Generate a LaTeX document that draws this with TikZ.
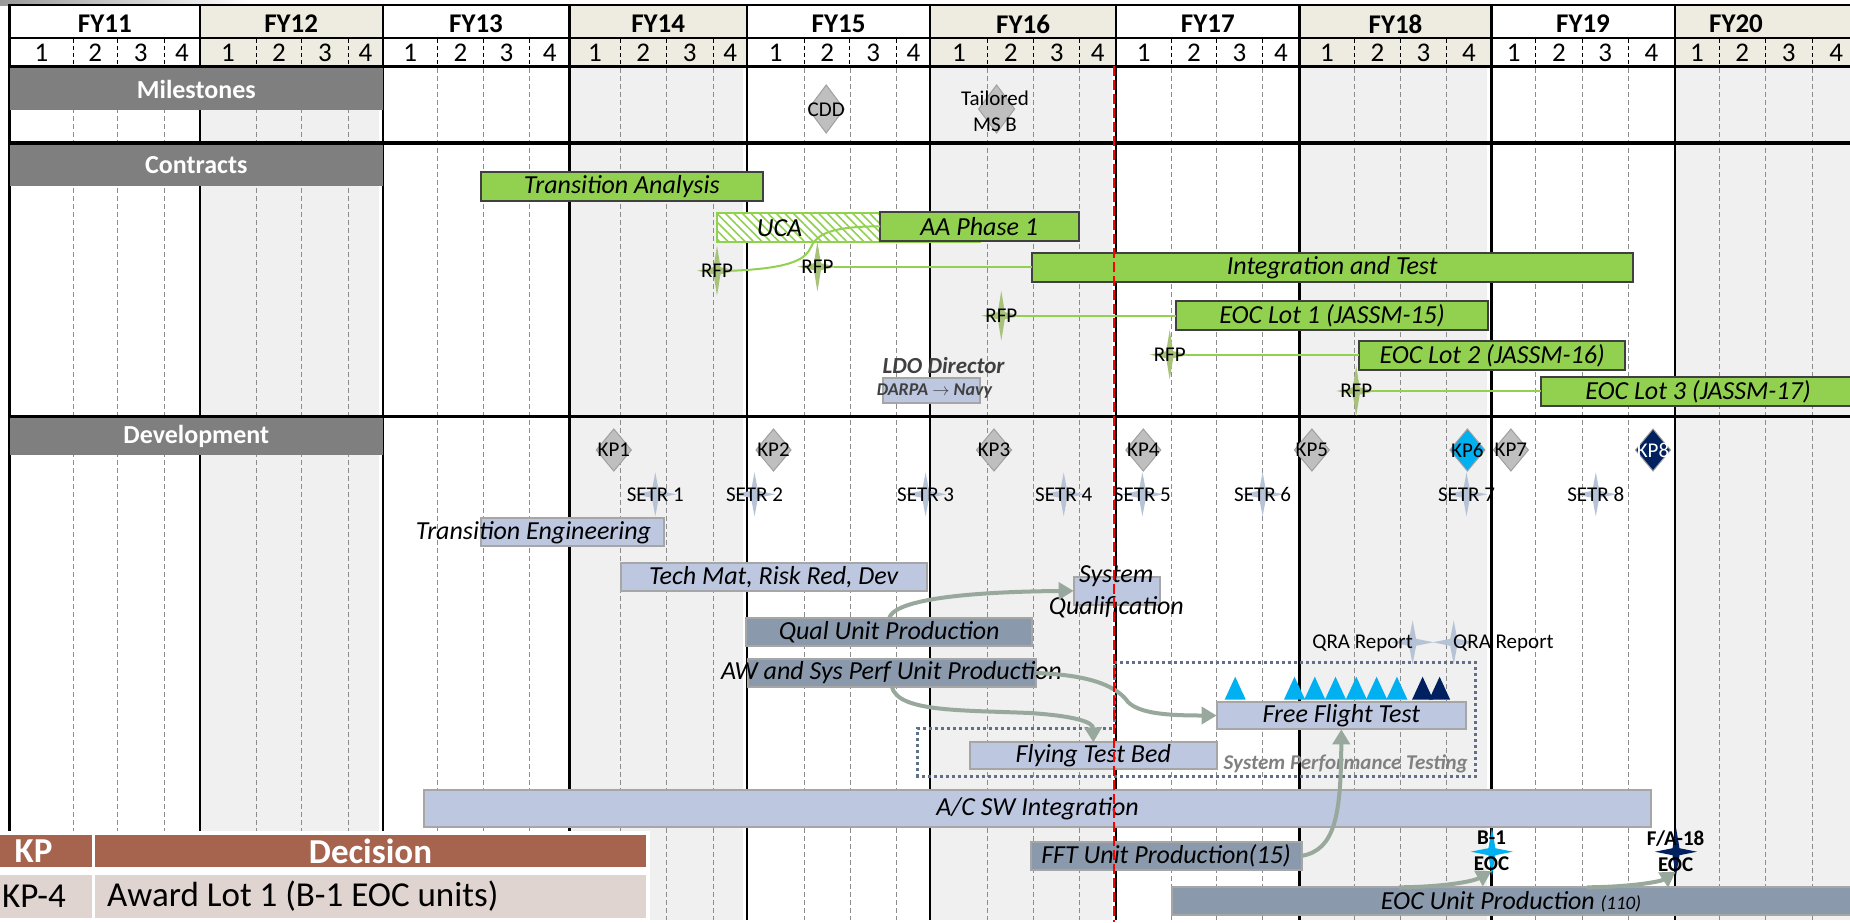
\documentclass[tikz,border=0pt]{standalone}
\usepackage{fontspec}
\setmainfont{Carlito}
\usetikzlibrary{arrows.meta,patterns.meta}

\definecolor{beige}{RGB}{238,236,225}
\definecolor{colgrey}{RGB}{240,240,240}
\definecolor{hdrgrey}{RGB}{127,127,127}
\definecolor{barGreen}{RGB}{146,208,80}
\definecolor{barBlue}{RGB}{189,199,224}
\definecolor{barSlate}{RGB}{138,154,172}
\definecolor{barEdge}{RGB}{166,166,166}
\definecolor{kpGrey}{RGB}{191,191,191}
\definecolor{kpEdge}{RGB}{160,160,160}
\definecolor{setrStar}{RGB}{182,194,214}
\definecolor{rfpStar}{RGB}{169,194,122}
\definecolor{cyanKP}{RGB}{0,176,240}
\definecolor{navyKP}{RGB}{0,32,96}
\definecolor{flowArrow}{RGB}{152,168,156}
\definecolor{dotEdge}{RGB}{96,112,136}
\definecolor{tblHead}{RGB}{166,99,78}
\definecolor{tblRow}{RGB}{224,212,208}
\definecolor{ldoText}{RGB}{64,64,64}

\tikzset{
  yline/.style={line width=2.2pt, black},
  qline/.style={line width=0.8pt, black!45, dash pattern=on 5pt off 3pt},
  qtick/.style={line width=1pt, black, dash pattern=on 4pt off 3pt},
  hline/.style={line width=3.5pt, black},
  fylbl/.style={font={\fontsize{27}{30}\selectfont\bfseries}, inner sep=0pt},
  qlbl/.style={font={\fontsize{27}{30}\selectfont}, inner sep=0pt},
  secbox/.style={fill=hdrgrey, inner sep=0pt, outer sep=0pt},
  seclbl/.style={text=white, font={\fontsize{26}{30}\selectfont\bfseries}, inner sep=0pt},
  greenbar/.style={fill=barGreen, draw=black!75, line width=2pt, inner sep=0pt, outer sep=0pt},
  ucabar/.style={preaction={fill=white}, draw=barGreen, line width=2pt,
    pattern={Lines[angle=-45,distance=6pt,line width=1.6pt]}, pattern color=barGreen,
    inner sep=0pt, outer sep=0pt},
  bluebar/.style={fill=barBlue, draw=barEdge, line width=2pt, inner sep=0pt, outer sep=0pt},
  slatebar/.style={fill=barSlate, draw=barEdge, line width=2pt, inner sep=0pt, outer sep=0pt},
  barlbl/.style={font={\fontsize{26}{32}\selectfont\itshape}, inner sep=0pt},
  smlbl/.style={font={\fontsize{21}{26}\selectfont}, inner sep=0pt},
  ldolbl/.style={text=ldoText, font={\fontsize{23}{26}\selectfont\bfseries\itshape}, inner sep=0pt},
  darpalbl/.style={text=ldoText, font={\fontsize{18}{22}\selectfont\bfseries\itshape}, inner sep=0pt},
  sptlbl/.style={text=black!50, font={\fontsize{21}{24}\selectfont\bfseries\itshape}, inner sep=0pt},
  eoclbl/.style={font={\fontsize{21}{26}\selectfont\bfseries}, inner sep=0pt, align=center},
  rfpline/.style={draw=barGreen, line width=2pt},
  flow/.style={draw=flowArrow, line width=4pt, -{Triangle[length=15pt,width=17pt]}},
  sptbox/.style={draw=dotEdge, line width=3pt, dash pattern=on 3pt off 3pt},
  reddash/.style={draw=red, line width=2.6pt, dash pattern=on 10pt off 4pt},
  tbllbl/.style={font={\fontsize{35}{40}\selectfont}, inner sep=0pt},
  tblhdr/.style={text=white, font={\fontsize{35}{40}\selectfont\bfseries}, inner sep=0pt},
  pics/diam/.style n args={3}{code={
    \filldraw[fill=#3, draw=kpEdge, line width=1pt] (-#1,0) -- (0,-#2) -- (#1,0) -- (0,#2) -- cycle;}},
  pics/fstar/.style n args={3}{code={
    \fill[#3] (0,-#2) -- (3.5,-3.5) -- (#1,0) -- (3.5,3.5) -- (0,#2) -- (-3.5,3.5) -- (-#1,0) -- (-3.5,-3.5) -- cycle;}},
}

% a bar: name, style, left, top, right, bottom
\newcommand\barnode[6]{\node[#2, anchor=north west, minimum width={#5-#3}, minimum height={#6-#4}] (#1) at (#3,#4) {};}

\begin{document}
\begin{tikzpicture}[x=1pt,y=-1pt]
\useasboundingbox (0,0) rectangle (1850,922);
\fill[white] (0,0) rectangle (1850,922);
\shade[left color=black!40, right color=white] (0,0) rectangle (250,5);

% ---------- calendar grid ----------
\foreach \a/\b/\fc in {9.9/199.7/white, 199.7/382.7/beige, 382.7/569.4/white, 569.4/747.1/beige,
    747.1/930.2/white, 930.2/1116/beige, 1116/1299.5/white, 1299.5/1491.4/beige,
    1491.4/1674.6/white, 1674.6/1860/beige}
  \fill[\fc] (\a,5) rectangle (\b,66);
\foreach \a/\b in {199.7/382.7, 569.4/747.1, 930.2/1116, 1299.5/1491.4, 1674.6/1860}
  \fill[colgrey] (\a,68) rectangle ({\b-4},920);

\foreach \yr/\a/\ta/\tb/\tq/\b in {11/9.9/73.2/117.4/164.1/199.7, 12/199.7/256.2/301.7/348/382.7,
    13/382.7/437.7/483.2/529.8/569.4, 14/569.4/620.6/666/713.5/747.1,
    15/747.1/804.4/849.9/896.6/930.2, 16/930.2/987.5/1033.7/1079.6/1116,
    17/1116/1171.3/1216.6/1262.2/1299.5, 18/1299.5/1354.6/1400.2/1446.6/1491.4,
    19/1491.4/1535.8/1582.2/1628.2/1674.6, 20/1674.6/1719.4/1765/1812.2/1860}{
  \foreach \t in {\ta,\tb,\tq}{
    \draw[qline] (\t,68) -- (\t,920);
    \draw[qtick] (\t,39) -- (\t,65);
  }
  \node[qlbl] (q\yr-1) at ({(\a+\ta)/2},52.5) {1};
  \node[qlbl] (q\yr-2) at ({(\ta+\tb)/2},52.5) {2};
  \node[qlbl] (q\yr-3) at ({(\tb+\tq)/2},52.5) {3};
  \node[qlbl] (q\yr-4) at ({(\tq+\b)/2},52.5) {4};
}
\foreach \b in {199.7,382.7,569.4,747.1,930.2,1116,1299.5,1491.4,1674.6}
  \draw[yline] (\b,5) -- (\b,920);
\draw[line width=3pt] (9.9,4) -- (9.9,832);
\draw[line width=2pt] (9.9,5) -- (1850,5);
\draw[line width=2pt] (9.9,38.3) -- (1850,38.3);
\draw[hline] (9.9,66.5) -- (1850,66.5);
\draw[hline] (9.9,143) -- (1850,143);
\draw[hline] (9.9,416.7) -- (1850,416.7);

\foreach \yr/\x in {11/104.8, 12/291.2, 13/476, 14/658.2, 15/838.6, 16/1023.1,
    17/1207.8, 18/1395.5, 19/1583, 20/1736}
  \node[fylbl] (fy\yr) at (\x,24) {FY\yr};

% ---------- section headers ----------
\barnode{msbox}{secbox}{9.9}{68}{382.7}{110}
\node[seclbl] (ms-t) at (msbox) {Milestones};
\barnode{ctbox}{secbox}{9.9}{145}{382.7}{186}
\node[seclbl] (ct-t) at (ctbox) {Contracts};
\barnode{dvbox}{secbox}{9.9}{418}{382.7}{455}
\node[seclbl] (dv-t) at (dvbox) {Development};

% ---------- milestones ----------
\pic at (826.2,109) {diam={18}{24}{kpGrey}};
\node[smlbl] (cdd) at (826.2,110) {CDD};
\pic at (996.6,109) {diam={18}{24}{kpGrey}};
\node[smlbl, align=center] (msb) at (995,111) {Tailored\\MS B};

% ---------- contracts ----------
\barnode{ta}{greenbar}{481.2}{171.7}{762.5}{200.7}
\node[barlbl] (ta-t) at (ta) {Transition Analysis};
\barnode{uca}{ucabar}{717}{212.7}{980.3}{242.3}
\node[barlbl] (uca-t) at (779.5,228) {UCA};
\barnode{aa}{greenbar}{880}{211.7}{1078.5}{241}
\node[barlbl] (aa-t) at (aa) {AA Phase 1};
\barnode{it}{greenbar}{1031.7}{252.7}{1632.6}{281.7}
\node[barlbl] (it-t) at (it) {Integration and Test};
\barnode{lot1}{greenbar}{1176.2}{301}{1487.9}{330}
\node[barlbl] (lot1-t) at (lot1) {EOC Lot 1 (JASSM-15)};
\barnode{lot2}{greenbar}{1359.4}{341}{1625}{370}
\node[barlbl] (lot2-t) at (lot2) {EOC Lot 2 (JASSM-16)};
\barnode{lot3}{greenbar}{1541}{377.3}{1855}{406}
\node[barlbl] (lot3-t) at (lot3) {EOC Lot 3 (JASSM-17)};

\pic at (717,270.7) {fstar={20}{25}{rfpStar}};
\node[smlbl] (rfp1) at (717,270.7) {RFP};
\pic at (817.4,266.7) {fstar={20}{25}{rfpStar}};
\node[smlbl] (rfp2) at (817.4,266.7) {RFP};
\pic at (1001.3,315.7) {fstar={20}{25}{rfpStar}};
\node[smlbl] (rfp3) at (1001.3,315.7) {RFP};
\pic at (1169.7,354.7) {fstar={20}{25}{rfpStar}};
\node[smlbl] (rfp4) at (1169.7,354.7) {RFP};
\pic at (1356.2,391) {fstar={20}{25}{rfpStar}};
\node[smlbl] (rfp5) at (1356.2,391) {RFP};

\draw[rfpline] (rfp1.east) .. controls (795,268) and (806,258) .. (811,247)
  .. controls (818,231) and (840,226.4) .. (aa.west);
\draw[rfpline] (rfp2.east) -- (rfp2.east -| it.west);
\draw[rfpline] (rfp3.east) -- (rfp3.east -| lot1.west);
\draw[rfpline] (rfp4.east) -- (rfp4.east -| lot2.west);
\draw[rfpline] (rfp5.east) -- (rfp5.east -| lot3.west);

\node[ldolbl] (ldo) at (943.6,366) {LDO Director};
\barnode{darpa}{bluebar}{883.4}{378.3}{980.3}{403.3}
\node[darpalbl] (darpa-t) at (934.4,391) {DARPA $\rightarrow$ Navy};

% ---------- development ----------
\foreach \n/\x/\fc in {1/613.8/kpGrey, 2/773.5/kpGrey, 3/994/kpGrey, 4/1143.3/kpGrey,
    5/1311.9/kpGrey, 6/1467.4/cyanKP, 7/1510.9/kpGrey}{
  \pic at (\x,450) {diam={17.5}{21}{\fc}};
  \node[smlbl] (kp\n) at (\x,450) {KP\n};
}
\pic at (1653,450) {diam={17.5}{21}{navyKP}};
\node[smlbl, text=white] (kp8) at (1653,450) {KP8};

\foreach \n/\x in {1/655.3, 2/754.5, 3/925.6, 4/1063.7, 5/1142.4, 6/1262.6, 7/1466.5, 8/1595.8}{
  \pic at (\x,494.3) {fstar={21}{22}{setrStar}};
  \node[smlbl] (setr\n) at (\x,494.3) {SETR \n};
}

\barnode{te}{bluebar}{480.8}{518.3}{663.8}{546}
\node[barlbl] (te-t) at (533.5,532.5) {Transition Engineering};
\barnode{tm}{bluebar}{620.5}{563.3}{926.9}{590.7}
\node[barlbl] (tm-t) at (tm) {Tech Mat, Risk Red, Dev};
\barnode{sq}{bluebar}{1073.6}{576.7}{1159.8}{605}
\node[barlbl, align=center] (sq-t) at (1116.3,592) {System\\Qualification};
\barnode{qual}{slatebar}{746.2}{618.3}{1032.2}{646}
\node[barlbl] (qual-t) at (qual) {Qual Unit Production};
\barnode{aw}{slatebar}{748.2}{659.3}{1035.5}{686.7}
\node[barlbl] (aw-t) at (891.5,673) {AW and Sys Perf Unit Production};

\pic at (1412.6,642.3) {fstar={21}{22}{setrStar}};
\pic at (1453.7,642.3) {fstar={21}{22}{setrStar}};
\node[smlbl, anchor=east] (qra1) at (1413,643) {QRA Report};
\node[smlbl, anchor=west] (qra2) at (1453,643) {QRA Report};

% system performance testing group
\draw[sptbox] (1114,662.7) -- (1475.6,662.7) -- (1475.6,776) -- (917.4,776)
  -- (917.4,728.3) -- (1114,728.3) -- cycle;
\node[sptlbl, anchor=east] (spt) at (1468,764) {System Performance Testing};

\foreach \x/\fc in {1235.2/cyanKP, 1294.5/cyanKP, 1314.8/cyanKP, 1335.5/cyanKP, 1356.3/cyanKP,
    1376.6/cyanKP, 1396.9/cyanKP, 1422.6/navyKP, 1439.6/navyKP}
  \fill[\fc] ({\x-10.5},699.5) -- (\x,676.7) -- ({\x+10.5},699.5) -- cycle;

\barnode{fft}{bluebar}{1216.6}{701.7}{1466.1}{729.3}
\node[barlbl] (fft-t) at (fft) {Free Flight Test};
\barnode{ftb}{bluebar}{970}{742.3}{1216.6}{769.3}
\node[barlbl] (ftb-t) at (ftb) {Flying Test Bed};
\barnode{acsw}{bluebar}{424.1}{790}{1651}{826.7}
\node[barlbl] (acsw-t) at (acsw) {A/C SW Integration};
\barnode{fftu}{slatebar}{1030.5}{841.7}{1301.7}{870}
\node[barlbl] (fftu-t) at (fftu) {FFT Unit Production(15)};
\barnode{eocu}{slatebar}{1171.5}{887.3}{1855}{915}
\node[barlbl] (eocu-t) at (1511,901.5) {EOC Unit Production {\fontsize{19}{22}\selectfont(110)}};

\pic at (1491.9,851.7) {fstar={21}{24}{cyanKP}};
\node[eoclbl] (b1) at (1491.5,851) {B-1\\EOC};
\pic at (1676,851.7) {fstar={21}{24}{navyKP}};
\node[eoclbl] (fa18) at (1675.6,851) {F/A-18\\EOC};

\coordinate (eocA) at (1399,887.3);
\coordinate (eocB) at (1587,887.3);

% flow arrows
\draw[flow] (qual.north) .. controls (893,602) and (950,592) .. (sq.west);
\draw[flow] (aw.south) .. controls (898,712) and (960,710) .. (1030,713)
  .. controls (1075,716) and (1093,722) .. (ftb.north);
\draw[flow] (aw.east) .. controls (1095,675) and (1118,688) .. (1128,702)
  .. controls (1140,714) and (1170,715.5) .. (fft.west);
\draw[flow] (fftu.east) .. controls (1335,850) and (1341,815) .. (fft.south);
\draw[flow] (eocA) .. controls (1440,887) and (1472,882) .. (b1.south);
\draw[flow] (eocB) .. controls (1628,887) and (1660,882) .. (fa18.south);

% status date
\draw[reddash] (1114,66) -- (1114,922);

% ---------- key point table ----------
\fill[white] (0,831) rectangle (650,922);
\fill[tblHead] (-30,835) rectangle (91.5,866.7);
\fill[tblHead] (94.6,835) rectangle (646.4,866.7);
\fill[tblRow] (-30,875) rectangle (91.5,918);
\fill[tblRow] (94.6,875) rectangle (646.4,918);
\node[tblhdr] (th-kp) at (33.5,851) {KP};
\node[tblhdr] (th-dec) at (370.5,851) {Decision};
\node[tbllbl, anchor=west] (td-kp) at (2,896.5) {KP-4};
\node[tbllbl, anchor=west] (td-dec) at (107,896.5) {Award Lot 1 (B-1 EOC units)};
\end{tikzpicture}
\end{document}
